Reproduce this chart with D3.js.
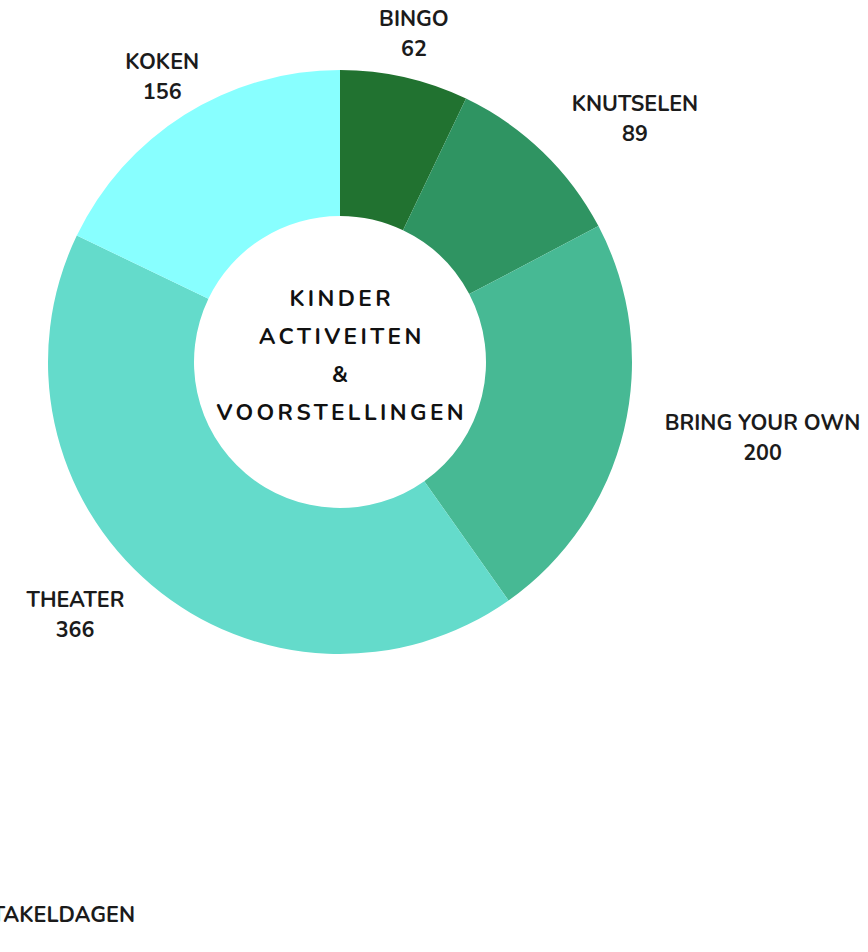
<!DOCTYPE html>
<html>
<head>
<meta charset="utf-8">
<script src="https://cdn.jsdelivr.net/npm/d3@7"></script>
<style>
  body { margin: 0; background: #fff; }
  text { font-family: "Nunito", "Lato", sans-serif; font-weight: 700; fill: #1b1b1b; }
</style>
</head>
<body>
<div id="chart"></div>
<script>
const categories = ["BINGO", "KNUTSELEN", "BRING YOUR OWN", "THEATER", "KOKEN"];
const values = [62, 89, 200, 366, 156];
const colors = ["#217230", "#2f9462", "#47b994", "#64dbcb", "#88ffff"];
const titleLines = ["KINDER", "ACTIVEITEN", "&", "VOORSTELLINGEN"];
const extraLabel = "TAKELDAGEN";

const width = 868;
const height = 952;
const cx = 340;
const cy = 362;
const outerRadius = 292;
const innerRadius = 146;
const labelRadius = 334;

const data = categories.map((c, i) => ({ name: c, value: values[i], color: colors[i] }));

const svg = d3.select("#chart")
  .append("svg")
  .attr("width", width)
  .attr("height", height);

const chart = svg.append("g")
  .attr("transform", `translate(${cx}, ${cy})`);

const pie = d3.pie()
  .value(d => d.value)
  .sort(null);

const arc = d3.arc()
  .innerRadius(innerRadius)
  .outerRadius(outerRadius);

const arcs = pie(data);

// Slices
chart.append("g")
  .selectAll("path")
  .data(arcs)
  .enter()
  .append("path")
  .attr("d", arc)
  .attr("fill", d => d.data.color);

// Slice labels
const labels = chart.append("g")
  .selectAll("text")
  .data(arcs)
  .enter()
  .append("text")
  .attr("font-size", "21.5px")
  .attr("text-anchor", d => {
    const s = Math.sin((d.startAngle + d.endAngle) / 2);
    return s > 0.6 ? "start" : s < -0.6 ? "end" : "middle";
  })
  .attr("transform", d => {
    const a = (d.startAngle + d.endAngle) / 2;
    return `translate(${Math.sin(a) * labelRadius}, ${-Math.cos(a) * labelRadius})`;
  });

labels.each(function (d) {
  const t = d3.select(this);
  const anchor = t.attr("text-anchor");
  t.append("tspan")
    .attr("x", 0)
    .attr("y", -17)
    .attr("dominant-baseline", "central")
    .text(d.data.name);
  const nameW = this.getBBox().width;
  // value centered under the name
  let vx = 0;
  if (anchor === "start") vx = nameW / 2;
  if (anchor === "end") vx = -nameW / 2;
  t.append("tspan")
    .attr("x", vx)
    .attr("y", 13)
    .attr("text-anchor", "middle")
    .attr("dominant-baseline", "central")
    .text(d.data.value);
});

// Centre title
chart.append("g")
  .selectAll("text")
  .data(titleLines)
  .enter()
  .append("text")
  .attr("x", 1.7)
  .attr("y", (d, i) => -64 + i * 38)
  .attr("text-anchor", "middle")
  .attr("dominant-baseline", "central")
  .attr("font-size", "22.5px")
  .style("letter-spacing", "3.4px")
  .style("fill", "#111")
  .text(d => d);

// Label at bottom left, cut off by the left edge as in the original
svg.append("text")
  .attr("x", 135)
  .attr("y", 915)
  .attr("text-anchor", "end")
  .attr("dominant-baseline", "central")
  .attr("font-size", "21.5px")
  .text(extraLabel);
</script>
</body>
</html>
